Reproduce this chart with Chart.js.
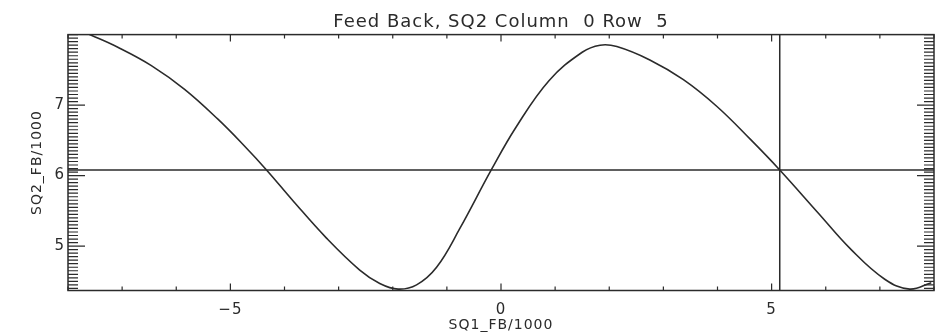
<!DOCTYPE html>
<html>
<head>
<meta charset="utf-8">
<script src="https://cdn.jsdelivr.net/npm/chart.js@4/dist/chart.umd.min.js"></script>
<style>
  html, body { margin: 0; padding: 0; background: #fff; }
  canvas { display: block; }
</style>
</head>
<body>
<canvas id="fb" width="949" height="335"></canvas>
<script>
// SQ2 response swept against SQ1 feedback (both in units of 1000)
const sq1 = [-8.0, -7.57, -7.08, -6.46, -5.84, -5.23, -4.74, -4.32, -3.84, -3.22, -2.61, -2.24,
             -1.9, -1.56, -1.19, -0.76, -0.18, 0.28, 0.89, 1.5, 1.83, 2.14, 2.75, 3.37,
             3.99, 4.6, 5.15, 5.86, 6.47, 7.09, 7.55, 7.95];
const sq2 = [8.13, 7.99, 7.82, 7.56, 7.22, 6.8, 6.42, 6.07, 5.64, 5.11, 4.66, 4.47,
             4.39, 4.45, 4.7, 5.25, 6.08, 6.69, 7.35, 7.75, 7.85, 7.83, 7.64, 7.36,
             6.98, 6.52, 6.08, 5.47, 4.95, 4.53, 4.39, 4.48];

// operating point markers
const lockLevel = [6.08];
const lockPos = [5.15];

const xRange = [-8, 8];
const yRange = [4.37, 8.0];
const xTicks = [-5, 0, 5];
const yTicks = [5, 6, 7];
const xMinorStep = 1;
const yMinorStep = 0.05;

const ink = '#2b2b2b';
const face = 'DejaVu Sans';

const curve = sq1.map((x, i) => ({x: x, y: sq2[i]}));
const hLine = xRange.map(x => ({x: x, y: lockLevel[0]}));
const vLine = yRange.map(y => ({x: lockPos[0], y: y}));

const fmt = v => (v < 0 ? '\u2212' + Math.abs(v) : String(v));

// IDL-style frame: box plus inward major/minor ticks on all four sides
const frameTicks = {
  id: 'frameTicks',
  beforeDraw(chart) {
    chart.ctx.letterSpacing = '1px';
  },
  afterDatasetsDraw(chart) {
    const {ctx, chartArea: a, scales} = chart;
    const xs = scales.x, ys = scales.y;
    ctx.save();
    ctx.strokeStyle = ink;
    ctx.lineWidth = 1.5;
    ctx.strokeRect(a.left, a.top, a.right - a.left, a.bottom - a.top);
    ctx.lineWidth = 1.2;
    ctx.beginPath();
    for (let v = xRange[0]; v <= xRange[1] + 1e-9; v += xMinorStep) {
      const px = xs.getPixelForValue(v);
      const len = xTicks.includes(Math.round(v)) ? 7 : 4;
      ctx.moveTo(px, a.bottom); ctx.lineTo(px, a.bottom - len);
      ctx.moveTo(px, a.top); ctx.lineTo(px, a.top + len);
    }
    const n = Math.round((yRange[1] - yRange[0]) / yMinorStep) + 2;
    const start = Math.ceil(yRange[0] / yMinorStep) * yMinorStep;
    for (let i = 0; i < n; i++) {
      const v = start + i * yMinorStep;
      if (v > yRange[1] + 1e-9) break;
      const py = ys.getPixelForValue(v);
      const major = yTicks.some(t => Math.abs(t - v) < 1e-6);
      const len = major ? 17 : 10;
      ctx.moveTo(a.left, py); ctx.lineTo(a.left + len, py);
      ctx.moveTo(a.right, py); ctx.lineTo(a.right - len, py);
    }
    ctx.stroke();
    ctx.restore();
  }
};

new Chart(document.getElementById('fb'), {
  type: 'line',
  data: {
    datasets: [
      {data: curve, borderColor: ink, borderWidth: 1.6, pointRadius: 0, tension: 0.4},
      {data: hLine, borderColor: ink, borderWidth: 1.5, pointRadius: 0},
      {data: vLine, borderColor: ink, borderWidth: 1.5, pointRadius: 0}
    ]
  },
  options: {
    responsive: false,
    animation: false,
    layout: {padding: {left: 0, right: 15, top: 0, bottom: 0}},
    plugins: {
      legend: {display: false},
      tooltip: {enabled: false},
      title: {
        display: true,
        fullSize: false,
        text: 'Feed Back, SQ2 Column  0 Row  5',
        color: ink,
        font: {family: face, size: 18, weight: 'normal'},
        padding: {top: 12, bottom: 1}
      }
    },
    scales: {
      x: {
        type: 'linear',
        min: xRange[0],
        max: xRange[1],
        afterBuildTicks: s => { s.ticks = xTicks.map(v => ({value: v})); },
        afterFit: s => { s.height = 44.5; },
        grid: {display: false, drawTicks: false, tickLength: 0},
        border: {display: false},
        ticks: {color: ink, padding: 11, maxRotation: 0, callback: fmt, font: {family: face, size: 15}},
        title: {
          display: true,
          text: 'SQ1_FB/1000',
          color: ink,
          font: {family: face, size: 14},
          padding: {top: 0, bottom: 1}
        }
      },
      y: {
        type: 'linear',
        min: yRange[0],
        max: yRange[1],
        afterBuildTicks: s => { s.ticks = yTicks.map(v => ({value: v})); },
        afterFit: s => { s.width = 68; },
        grid: {display: false, drawTicks: false, tickLength: 0},
        border: {display: false},
        ticks: {color: ink, padding: 3, callback: fmt, font: {family: face, size: 15}},
        title: {
          display: true,
          text: 'SQ2_FB/1000',
          color: ink,
          font: {family: face, size: 14},
          padding: {top: 29, bottom: 0}
        }
      }
    }
  },
  plugins: [frameTicks]
});
</script>
</body>
</html>
